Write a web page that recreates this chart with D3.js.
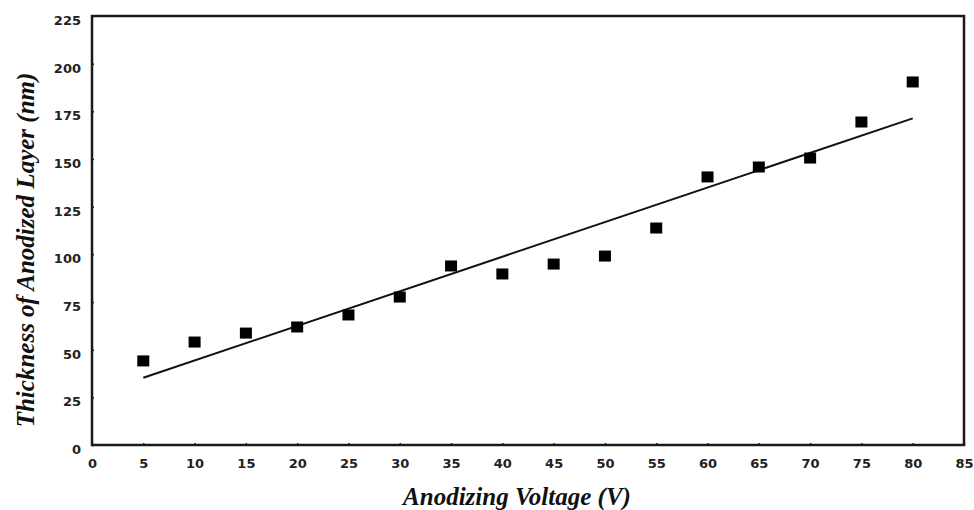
<!DOCTYPE html>
<html>
<head>
<meta charset="utf-8">
<script src="https://cdn.jsdelivr.net/npm/d3@7"></script>
<style>
  body { margin: 0; background: #fff; }
  .tick text { font-family: "DejaVu Sans", sans-serif; font-weight: bold; font-size: 13px; fill: #222; }
  .title { font-family: "Liberation Serif", "Times New Roman", serif; font-weight: bold; font-style: italic; font-size: 25px; fill: #111; }
</style>
</head>
<body>
<script>
/* 데이터 */
var voltage = [5, 10, 15, 20, 25, 30, 35, 40, 45, 50, 55, 60, 65, 70, 75, 80];
var thickness = [44.1, 54.0, 58.7, 61.9, 68.2, 77.6, 93.9, 89.7, 94.9, 99.1, 113.8, 140.6, 145.8, 150.5, 169.4, 190.4];
var xTicks = d3.range(0, 90, 5);
var yTicks = d3.range(0, 250, 25);

var W = 974, H = 510;
var margin = { left: 92, top: 16, right: 10, bottom: 65 };

var svg = d3.select('body').append('svg')
  .attr('width', W)
  .attr('height', H);

var x = d3.scaleLinear().domain([0, 85]).range([margin.left, W - margin.right]);
var y = d3.scaleLinear().domain([0, 225]).range([H - margin.bottom, margin.top]);

/* 축 */
var xAxis = svg.append('g')
  .attr('transform', 'translate(0,' + y(0) + ')')
  .call(d3.axisBottom(x).tickValues(xTicks).tickSize(-2).tickPadding(14));
var yAxis = svg.append('g')
  .attr('transform', 'translate(' + x(0) + ',0)')
  .call(d3.axisLeft(y).tickValues(yTicks).tickSize(-2).tickPadding(11));

[xAxis, yAxis].forEach(function (g) {
  g.select('.domain').remove();
  g.selectAll('.tick line').attr('stroke', '#222').attr('stroke-width', 1.5);
});
yAxis.selectAll('.tick text').attr('dy', '0.72em').attr('y', -1);

/* 테두리 */
svg.append('rect')
  .attr('x', x(0))
  .attr('y', y(225))
  .attr('width', x(85) - x(0))
  .attr('height', y(0) - y(225))
  .attr('fill', 'none')
  .attr('stroke', '#1a1a1a')
  .attr('stroke-width', 2.5);

/* 추세선 (최소제곱) */
var mx = d3.mean(voltage), my = d3.mean(thickness);
var sxy = d3.sum(voltage, function (v, i) { return (v - mx) * (thickness[i] - my); });
var sxx = d3.sum(voltage, function (v) { return (v - mx) * (v - mx); });
var slope = sxy / sxx, icpt = my - slope * mx;
var ends = d3.extent(voltage);

svg.append('line')
  .attr('x1', x(ends[0]))
  .attr('y1', y(icpt + slope * ends[0]))
  .attr('x2', x(ends[1]))
  .attr('y2', y(icpt + slope * ends[1]))
  .attr('stroke', '#111')
  .attr('stroke-width', 2);

/* 점 */
var s = 12;
svg.selectAll('rect.pt')
  .data(voltage)
  .enter().append('rect')
  .attr('class', 'pt')
  .attr('x', function (v) { return x(v) - s / 2; })
  .attr('y', function (v, i) { return y(thickness[i]) - s / 2 + 0.5; })
  .attr('width', s)
  .attr('height', s - 1)
  .attr('fill', '#000');

/* 축 제목 */
svg.append('text')
  .attr('class', 'title')
  .attr('x', 517)
  .attr('y', 505)
  .attr('text-anchor', 'middle')
  .text('Anodizing Voltage (V)');

svg.append('text')
  .attr('class', 'title')
  .attr('transform', 'translate(34,250) rotate(-90)')
  .attr('text-anchor', 'middle')
  .text('Thickness of Anodized Layer (nm)');
</script>
</body>
</html>
